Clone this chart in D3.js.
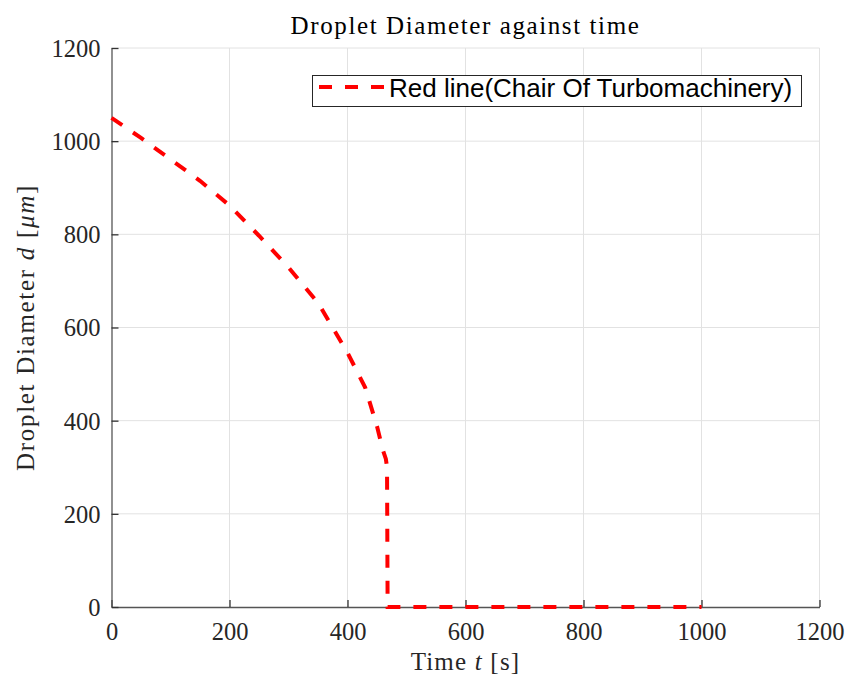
<!DOCTYPE html>
<html>
<head>
<meta charset="utf-8">
<script src="https://cdn.jsdelivr.net/npm/d3@7"></script>
<style>
  body { margin: 0; background: #fff; }
  svg { display: block; }
</style>
</head>
<body>
<svg id="chart" width="851" height="683"></svg>
<script>
// data
const timeValues = [0, 50, 100, 150, 200, 250, 300, 350, 400, 430, 450, 460, 465, 467, 468, 1000];
const diameterValues = [1050, 1007, 961, 915, 862, 797, 729, 653, 546, 471, 388, 337, 318, 300, 0, 0];
const xTicks = [0, 200, 400, 600, 800, 1000, 1200];
const yTicks = [0, 200, 400, 600, 800, 1000, 1200];
const seriesName = 'Red line(Chair Of Turbomachinery)';

const svg = d3.select('#chart');
const margin = {left: 111.5, right: 31.5, top: 48, bottom: 76};
const width = 851, height = 683;
const serif = '"Liberation Serif", "Times New Roman", serif';

const x = d3.scaleLinear().domain([0, 1200]).range([margin.left, width - margin.right]);
const y = d3.scaleLinear().domain([0, 1200]).range([height - margin.bottom, margin.top]);

// grid
const grid = svg.append('g').attr('class', 'grid');
grid.selectAll('.gx').data(xTicks.slice(1)).enter().append('line')
  .attr('x1', d => x(d)).attr('x2', d => x(d))
  .attr('y1', y(0)).attr('y2', y(1200))
  .style('stroke', '#e2e2e2').style('stroke-width', 1);
grid.selectAll('.gy').data(yTicks.slice(1)).enter().append('line')
  .attr('x1', x(0)).attr('x2', x(1200))
  .attr('y1', d => y(d)).attr('y2', d => y(d))
  .style('stroke', '#e2e2e2').style('stroke-width', 1);

// axes, ticks pointing inward
const fmt = d3.format('d');
const xAxis = svg.append('g')
  .attr('transform', 'translate(0,' + y(0) + ')')
  .call(d3.axisBottom(x).tickValues(xTicks).tickFormat(fmt).tickSizeInner(-7).tickSizeOuter(0).tickPadding(15));
const yAxis = svg.append('g')
  .attr('transform', 'translate(' + x(0) + ',0)')
  .call(d3.axisLeft(y).tickValues(yTicks).tickFormat(fmt).tickSizeInner(-7).tickSizeOuter(0).tickPadding(11));

[xAxis, yAxis].forEach(ax => {
  ax.select('.domain').style('stroke', '#555').style('stroke-width', 1.3);
  ax.selectAll('.tick line').style('stroke', '#333').style('stroke-width', 1.3);
  ax.selectAll('.tick text')
    .style('font-family', serif)
    .style('font-size', '24.5px')
    .style('fill', '#262626');
});
yAxis.selectAll('.tick text').attr('dy', '0.34em');
xAxis.selectAll('.tick text').attr('dy', '0.72em');

// line
const line = d3.line()
  .x((d, i) => x(timeValues[i]))
  .y((d, i) => y(diameterValues[i]));

svg.append('path')
  .datum(diameterValues)
  .attr('d', line)
  .style('fill', 'none')
  .style('stroke', '#ff0000')
  .style('stroke-width', 4)
  .style('stroke-dasharray', '13,13');

// title and labels
svg.append('text')
  .attr('x', (x(0) + x(1200)) / 2)
  .attr('y', 34)
  .attr('text-anchor', 'middle')
  .style('font-family', serif)
  .style('font-size', '25px')
  .style('letter-spacing', '1.6px')
  .style('fill', '#000')
  .text('Droplet Diameter against time');

const xl = svg.append('text')
  .attr('x', (x(0) + x(1200)) / 2)
  .attr('y', 670)
  .attr('text-anchor', 'middle')
  .style('font-family', serif)
  .style('font-size', '25px')
  .style('letter-spacing', '1.2px')
  .style('fill', '#262626');
xl.append('tspan').text('Time ');
xl.append('tspan').style('font-style', 'italic').text('t');
xl.append('tspan').text(' [s]');

const yl = svg.append('text')
  .attr('transform', 'translate(34,' + ((y(0) + y(1200)) / 2) + ') rotate(-90)')
  .attr('text-anchor', 'middle')
  .style('font-family', serif)
  .style('font-size', '25px')
  .style('letter-spacing', '1.7px')
  .style('fill', '#262626');
yl.append('tspan').text('Droplet Diameter ');
yl.append('tspan').style('font-style', 'italic').text('d');
yl.append('tspan').text(' [');
yl.append('tspan').style('font-style', 'italic').text('μm');
yl.append('tspan').text(']');

// legend
const legend = svg.append('g').attr('class', 'legend');
legend.append('rect')
  .attr('x', 312.5).attr('y', 75.5)
  .attr('width', 489).attr('height', 31)
  .style('fill', '#fff')
  .style('stroke', '#262626')
  .style('stroke-width', 1);
legend.append('line')
  .attr('x1', 319).attr('x2', 384)
  .attr('y1', 87).attr('y2', 87)
  .style('stroke', '#ff0000')
  .style('stroke-width', 4)
  .style('stroke-dasharray', '13,13');
legend.append('text')
  .attr('x', 389).attr('y', 97)
  .style('font-family', '"Liberation Sans", Arial, sans-serif')
  .style('font-size', '26px')
  .style('fill', '#000')
  .text(seriesName);
</script>
</body>
</html>
